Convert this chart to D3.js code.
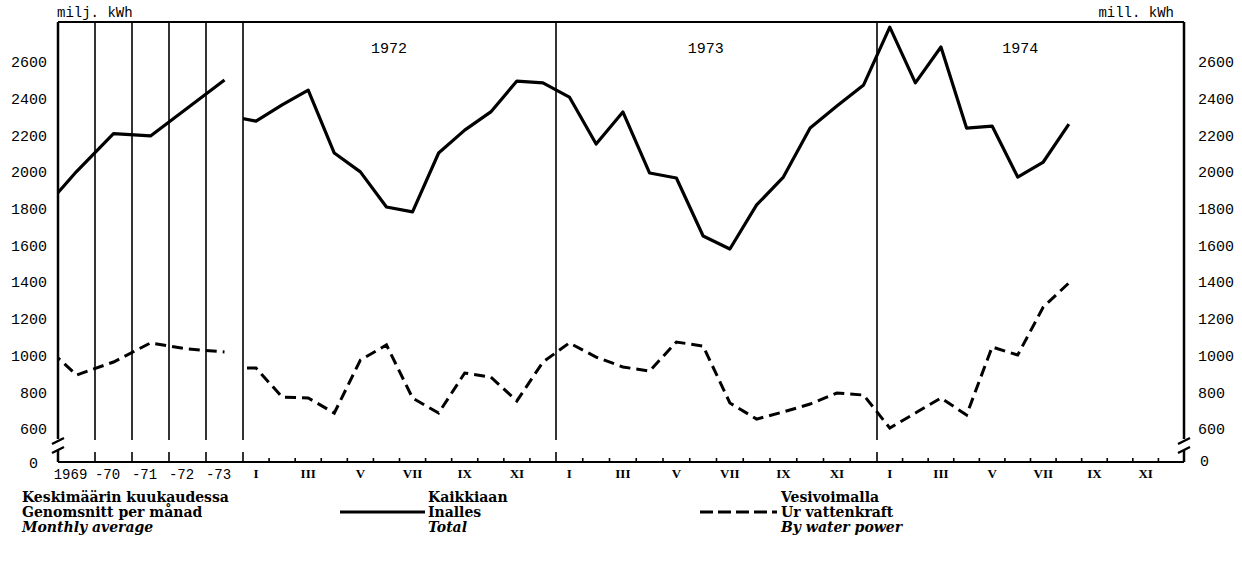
<!DOCTYPE html>
<html lang="fi">
<head>
  <meta charset="UTF-8">
  <title>Sähkön kulutus kuukaudessa</title>
  <script src="https://d3js.org/d3.v7.min.js"></script>
  <style>
    body { margin: 0; background: #fff; }
    svg { display: block; }
    .tick-num { font: 15px 'Liberation Mono', 'DejaVu Sans Mono', monospace; fill: #000; }
    .unit { font: 14px 'Liberation Mono', 'DejaVu Sans Mono', monospace; fill: #000; }
    .month { font: bold 13px 'Liberation Serif', serif; fill: #000; }
    .leg { font: bold 14px 'DejaVu Serif', serif; fill: #000; }
    .leg.it { font-style: italic; }
    .frame { stroke: #000; stroke-width: 2; fill: none; }
    .thin { stroke: #000; stroke-width: 1.6; fill: none; }
  </style>
</head>
<body>
<div id="chart"></div>
<script>
  // annual averages (1968 only feeds the stub that enters at the axis)
  const annualYears = [1968, 1969, 1970, 1971, 1972, 1973];
  const annualLabels = ['1969', '-70', '-71', '-72', '-73'];
  const annualTotal = [1774, 2003, 2210, 2197, 2349, 2502];
  const annualHydro = [1080, 894, 965, 1069, 1036, 1020];

  // monthly values, Dec 1971 .. Aug 1974 (index -1 = Dec 1971)
  const monthTotal = [2306,
    2278, 2366, 2447, 2104, 2001, 1810, 1783, 2104, 2229, 2328, 2496, 2486,
    2409, 2153, 2328, 1995, 1968, 1652, 1581, 1821, 1973, 2240, 2360, 2475,
    2790, 2486, 2682, 2240, 2251, 1973, 2055, 2262];
  const monthHydro = [932,
    932, 774, 769, 687, 976, 1058, 769, 687, 905, 883, 753, 965,
    1069, 992, 938, 916, 1074, 1052, 742, 654, 693, 736, 796, 785,
    605, 687, 769, 676, 1047, 1003, 1265, 1396];

  const years = ['1972', '1973', '1974'];
  const monthNames = ['I', 'III', 'V', 'VII', 'IX', 'XI'];
  const yTicks = [2600, 2400, 2200, 2000, 1800, 1600, 1400, 1200, 1000, 800, 600];

  const W = 1242, H = 561;
  const pLeft = 58, pRight = 1184, pTop = 22, pBase = 462;

  const svg = d3.select('#chart').append('svg').attr('width', W).attr('height', H);

  const y = d3.scaleLinear().domain([600, 2600]).range([429, 62]);
  const xa = d3.scaleLinear().domain([1968.5, 1973.5]).range([pLeft, 243]);
  // hand-drawn year widths differ a little
  const xm = d3.scaleLinear().domain([0, 12, 24, 36]).range([243, 556, 877, pRight]);

  const defs = svg.append('defs');
  defs.append('clipPath').attr('id', 'clipA').append('rect')
    .attr('x', pLeft).attr('y', 0).attr('width', 243 - pLeft).attr('height', H);
  defs.append('clipPath').attr('id', 'clipM').append('rect')
    .attr('x', 243).attr('y', 0).attr('width', pRight - 243).attr('height', H);

  // frame: top, axes with breaks, baseline
  svg.append('line').attr('class', 'frame').attr('x1', pLeft).attr('x2', pRight).attr('y1', pTop).attr('y2', pTop);
  svg.append('line').attr('class', 'frame').attr('x1', pLeft).attr('x2', pRight).attr('y1', pBase).attr('y2', pBase);
  [pLeft, pRight].forEach(ax => {
    svg.append('line').attr('class', 'frame').style('stroke-width', 2.5)
      .attr('x1', ax).attr('x2', ax).attr('y1', pTop).attr('y2', 439);
    svg.append('path').attr('class', 'frame').style('stroke-width', 2.5)
      .attr('d', `M${ax - 6},${444}L${ax + 6},${438}M${ax - 6},${453}L${ax + 6},${447}`);
    svg.append('line').attr('class', 'frame').style('stroke-width', 2.5)
      .attr('x1', ax).attr('x2', ax).attr('y1', 450).attr('y2', pBase);
  });

  // separators: annual bands, then year boundaries
  const seps = [1969.5, 1970.5, 1971.5, 1972.5].map(xa).concat([0, 12, 24].map(xm));
  seps.forEach(sx => {
    svg.append('line').attr('class', 'thin').attr('x1', sx).attr('x2', sx).attr('y1', pTop).attr('y2', 440);
    svg.append('line').attr('class', 'thin').attr('x1', sx).attr('x2', sx).attr('y1', 452).attr('y2', pBase);
  });

  // month ticks
  d3.range(1, 36).filter(i => i % 12).forEach(i => {
    svg.append('line').attr('class', 'thin').attr('x1', xm(i)).attr('x2', xm(i)).attr('y1', pBase - 4).attr('y2', pBase);
  });

  // y labels on both sides
  yTicks.forEach(v => {
    svg.append('text').attr('class', 'tick-num').attr('x', 47).attr('y', y(v)).attr('dy', '0.35em')
      .attr('text-anchor', 'end').text(v);
    svg.append('text').attr('class', 'tick-num').attr('x', 1198).attr('y', y(v)).attr('dy', '0.35em').text(v);
  });
  svg.append('text').attr('class', 'tick-num').attr('x', 38).attr('y', 463).attr('dy', '0.35em').attr('text-anchor', 'end').text('0');
  svg.append('text').attr('class', 'tick-num').attr('x', 1200).attr('y', 461).attr('dy', '0.35em').text('0');

  svg.append('text').attr('class', 'unit').attr('x', 57).attr('y', 17).text('milj. kWh');
  svg.append('text').attr('class', 'unit').attr('x', 1174).attr('y', 17).attr('text-anchor', 'end').text('mill. kWh');

  // x labels
  annualLabels.forEach((t, i) => {
    svg.append('text').attr('class', 'tick-num').style('font-size', '14px')
      .attr('x', xa(1969 + i) - 6).attr('y', 474).attr('dy', '0.35em').attr('text-anchor', 'middle').text(t);
  });
  years.forEach((yr, k) => {
    monthNames.forEach((m, j) => {
      svg.append('text').attr('class', 'month').attr('x', xm(k * 12 + j * 2 + 0.5)).attr('y', 473)
        .attr('dy', '0.35em').attr('text-anchor', 'middle').text(m);
    });
    svg.append('text').attr('class', 'tick-num').attr('x', xm(k * 12 + 5.6)).attr('y', 48)
      .attr('dy', '0.35em').attr('text-anchor', 'middle').text(yr);
  });

  // series
  const lineA = d3.line().x((d, i) => xa(annualYears[i])).y(d => y(d));
  const lineM = d3.line().x((d, i) => xm(i - 1 + 0.5)).y(d => y(d));

  svg.append('path').attr('clip-path', 'url(#clipA)').attr('d', lineA(annualTotal))
    .attr('fill', 'none').attr('stroke', '#000').attr('stroke-width', 3.2).attr('stroke-linejoin', 'round');
  svg.append('path').attr('clip-path', 'url(#clipA)').attr('d', lineA(annualHydro))
    .attr('fill', 'none').attr('stroke', '#000').attr('stroke-width', 3).attr('stroke-dasharray', '11,6');
  svg.append('path').attr('clip-path', 'url(#clipM)').attr('d', lineM(monthTotal))
    .attr('fill', 'none').attr('stroke', '#000').attr('stroke-width', 3.2).attr('stroke-linejoin', 'round');
  svg.append('path').attr('clip-path', 'url(#clipM)').attr('d', lineM(monthHydro))
    .attr('fill', 'none').attr('stroke', '#000').attr('stroke-width', 3).attr('stroke-dasharray', '11,6');

  // legend
  const legRows = [497, 512, 527];
  const legCols = [
    { x: 22, lines: ['Keskimäärin kuukaudessa', 'Genomsnitt per månad', 'Monthly average'] },
    { x: 428, lines: ['Kaikkiaan', 'Inalles', 'Total'], mark: [340, 425], dash: null },
    { x: 781, lines: ['Vesivoimalla', 'Ur vattenkraft', 'By water power'], mark: [700, 777], dash: '13,5' }
  ];
  legCols.forEach(c => {
    c.lines.forEach((t, i) => {
      svg.append('text').attr('class', i === 2 ? 'leg it' : 'leg').attr('x', c.x).attr('y', legRows[i])
        .attr('dy', '0.35em').text(t);
    });
    if (c.mark) {
      svg.append('line').attr('x1', c.mark[0]).attr('x2', c.mark[1]).attr('y1', legRows[1]).attr('y2', legRows[1])
        .attr('stroke', '#000').attr('stroke-width', 3).attr('stroke-dasharray', c.dash);
    }
  });
</script>
</body>
</html>
